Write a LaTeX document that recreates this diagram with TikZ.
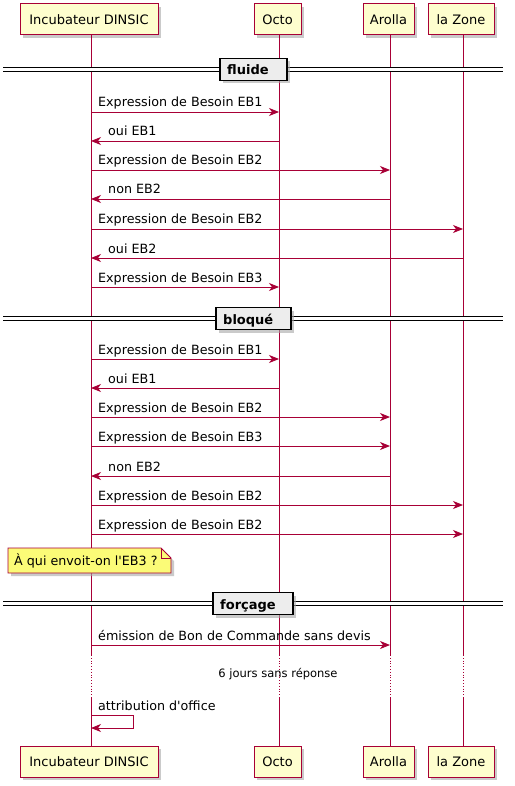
\documentclass[tikz,border=0pt]{standalone}
\usepackage{fontspec}
\setmainfont{DejaVu Sans}[Ligatures=TeXOff]
\usetikzlibrary{arrows.meta,shadows}
\definecolor{pred}{HTML}{A80036}
\definecolor{pfill}{HTML}{FEFECE}
\definecolor{notefill}{HTML}{FBFB77}
\tikzset{
  part/.style={draw=pred, line width=1pt, fill=pfill, minimum height=31pt, inner xsep=6pt,
    font=\fontsize{13}{15}\selectfont, drop shadow={shadow xshift=3pt, shadow yshift=-3pt, fill=black!35, opacity=0.6}},
  life/.style={draw=pred, line width=0.8pt},
  msg/.style={draw=pred, line width=0.9pt, -{Stealth[length=10pt,width=8pt,inset=3pt]}},
  lbl/.style={anchor=base west, inner sep=0pt, font=\fontsize{12.7}{15}\selectfont},
  divbox/.style={draw=black, line width=1.6pt, fill=black!7, minimum height=22pt, inner sep=0pt,
    drop shadow={shadow xshift=3pt, shadow yshift=-3pt, fill=black!35, opacity=0.6}},
  divtxt/.style={anchor=base west, inner sep=0pt, font=\bfseries\fontsize{13}{15}\selectfont},
  divline/.style={draw=black, line width=1.1pt, double distance=2.2pt},
}
\begin{document}
\begin{tikzpicture}[x=1pt,y=-1pt]
\useasboundingbox (0,0) rectangle (514,786);
% participants
\node[part, minimum width=138pt] (p1) at (89,19.5) {Incubateur DINSIC};
\node[part, minimum width=47pt] (p2) at (277.5,19.5) {Octo};
\node[part, minimum width=51pt] (p3) at (388.5,19.5) {Arolla};
\node[part, minimum width=66pt] (p4) at (461,19.5) {la Zone};
\node[part, minimum width=138pt] (b1) at (89,761.5) {Incubateur DINSIC};
\node[part, minimum width=47pt] (b2) at (277.5,761.5) {Octo};
\node[part, minimum width=51pt] (b3) at (388.5,761.5) {Arolla};
\node[part, minimum width=66pt] (b4) at (461,761.5) {la Zone};
% lifelines (x positions)
\def\xa{91}\def\xb{279}\def\xc{390}\def\xd{463}
\foreach \x in {91,279,390,463}{
  \draw[life] (\x,35) -- (\x,655);
  \draw[life, dotted, line width=1pt] (\x,655) -- (\x,697);
  \draw[life] (\x,697) -- (\x,746);
}
% dividers
\foreach \y in {69.5,318.5,603.5}{
  \draw[divline] (3,\y) -- (503,\y);
}
\node[divbox, minimum width=67pt] (d1) at (253.5,69.5) {};
\node[divtxt] (t1) at (227,75) {fluide};
\node[divbox, minimum width=75pt] (d2) at (253.5,318.5) {};
\node[divtxt] (t2) at (223,324) {bloqué};
\node[divbox, minimum width=80pt] (d3) at (253,603.5) {};
\node[divtxt] (t3) at (220,609) {forçage};
% message endpoints
\foreach \i/\y in {1/112,2/141,3/170,4/199,5/229,6/258,7/287,8/359,9/388,10/417,11/446,12/476,13/505,14/534,15/645}{
  \coordinate (a\i) at (\xa,\y);
  \coordinate (o\i) at (\xb,\y);
  \coordinate (r\i) at (\xc,\y);
  \coordinate (z\i) at (\xd,\y);
}
% fluide
\draw[msg] (a1) -- (o1); \node[lbl] (l1) at (98,107) {Expression de Besoin EB1};
\draw[msg] (o2) -- (a2); \node[lbl] (l2) at (108,136) {oui EB1};
\draw[msg] (a3) -- (r3); \node[lbl] (l3) at (98,165) {Expression de Besoin EB2};
\draw[msg] (r4) -- (a4); \node[lbl] (l4) at (108,194) {non EB2};
\draw[msg] (a5) -- (z5); \node[lbl] (l5) at (98,224) {Expression de Besoin EB2};
\draw[msg] (z6) -- (a6); \node[lbl] (l6) at (108,253) {oui EB2};
\draw[msg] (a7) -- (o7); \node[lbl] (l7) at (98,282) {Expression de Besoin EB3};
% bloque
\draw[msg] (a8) -- (o8); \node[lbl] (l8) at (98,354) {Expression de Besoin EB1};
\draw[msg] (o9) -- (a9); \node[lbl] (l9) at (108,383) {oui EB1};
\draw[msg] (a10) -- (r10); \node[lbl] (l10) at (98,412) {Expression de Besoin EB2};
\draw[msg] (a11) -- (r11); \node[lbl] (l11) at (98,441) {Expression de Besoin EB3};
\draw[msg] (r12) -- (a12); \node[lbl] (l12) at (108,471) {non EB2};
\draw[msg] (a13) -- (z13); \node[lbl] (l13) at (98,500) {Expression de Besoin EB2};
\draw[msg] (a14) -- (z14); \node[lbl] (l14) at (98,529) {Expression de Besoin EB2};
% note
\fill[black!35, opacity=0.6] (11,551) -- (164,551) -- (174,561) -- (174,576) -- (11,576) -- cycle;
\draw[pred, line width=0.8pt, fill=notefill] (8,548) -- (161,548) -- (171,558) -- (171,573) -- (8,573) -- cycle;
\draw[pred, line width=0.8pt] (161,548) -- (161,558) -- (171,558);
\node[lbl] (n1) at (14,565) {À qui envoit-on l'EB3 ?};
% forcage
\draw[msg] (a15) -- (r15); \node[lbl] (l15) at (98,640) {émission de Bon de Commande sans devis};
\node[font=\fontsize{11.5}{13}\selectfont, inner sep=0pt] (dl) at (278,674) {6 jours sans réponse};
% self message
\coordinate (s1) at (\xa,715);
\coordinate (s2) at (\xa,728);
\draw[msg] (s1) -- (133,715) -- (133,728) -- (s2);
\node[lbl] (l16) at (98,710) {attribution d'office};
\end{tikzpicture}
\end{document}
